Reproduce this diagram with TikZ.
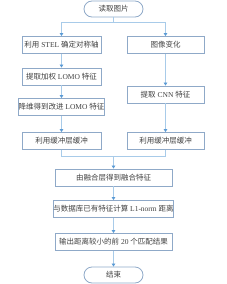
\documentclass[tikz,border=0pt]{standalone}
\usepackage{fontspec}
\setmainfont{Liberation Serif}
\newfontfamily\cjk{Noto Sans CJK SC}
\usetikzlibrary{arrows.meta}
\definecolor{boxc}{HTML}{8FA9C8}
\definecolor{linec}{HTML}{A8CBE9}
\definecolor{arrc}{HTML}{5B9BD5}
\definecolor{txtc}{HTML}{404040}
\begin{document}
\begin{tikzpicture}[x=1pt,y=-1pt,
 stepbox/.style={draw=boxc,line width=0.8pt,minimum height=17pt,inner sep=0pt,font=\fontsize{7.5}{9}\selectfont,text=txtc},
 lbox/.style={stepbox,minimum width=79pt},
 rbox/.style={stepbox,minimum width=77pt},
 wbox/.style={stepbox,minimum width=117pt},
 term/.style={stepbox,rounded corners=8pt,minimum width=59pt,minimum height=16pt},
 conn/.style={draw=linec,line width=0.9pt},
 arr/.style={conn,-{Triangle[length=3pt,width=3.5pt,color=arrc]}}]
\useasboundingbox (0,0) rectangle (226,284);
\node[term] (start) at (113.5,9) {{\cjk 读取图片}};
\node[lbox] (l1) at (61.5,45) {{\cjk 利用} STEL {\cjk 确定对称轴}};
\node[rbox] (r1) at (165.5,45) {{\cjk 图像变化}};
\node[lbox] (l2) at (61.5,76.5) {{\cjk 提取加权} LOMO {\cjk 特征}};
\node[rbox] (r2) at (165.5,94.5) {{\cjk 提取} CNN {\cjk 特征}};
\node[lbox] (l3) at (61.5,107) {{\cjk 降维得到改进} LOMO {\cjk 特征}};
\node[lbox] (l4) at (61.5,141) {{\cjk 利用缓冲层缓冲}};
\node[rbox] (r4) at (165.5,141) {{\cjk 利用缓冲层缓冲}};
\node[wbox] (m) at (113.5,177.5) {{\cjk 由融合层得到融合特征}};
\node[wbox] (d) at (113.5,209) {{\cjk 与数据库已有特征计算} L1-norm {\cjk 距离}};
\node[wbox] (o) at (113.5,242) {{\cjk 输出距离较小的前} 20 {\cjk 个匹配结果}};
\node[term] (e) at (113.5,275) {{\cjk 结束}};
\coordinate (split) at (113.5,22);
\coordinate (join) at (113.5,156);
\draw[conn] (start.south) -- (split);
\draw[arr] (split) -| (l1.north);
\draw[arr] (split) -| (r1.north);
\draw[arr] (l1.south) -- (l2.north);
\draw[arr] (l2.south) -- (l3.north);
\draw[arr] (l3.south) -- (l4.north);
\draw[arr] (r1.south) -- (r2.north);
\draw[arr] (r2.south) -- (r4.north);
\draw[conn] (l4.south) |- (join);
\draw[conn] (r4.south) |- (join);
\draw[arr] (join) -- (m.north);
\draw[arr] (m.south) -- (d.north);
\draw[arr] (d.south) -- (o.north);
\draw[arr] (o.south) -- (e.north);
\end{tikzpicture}
\end{document}
